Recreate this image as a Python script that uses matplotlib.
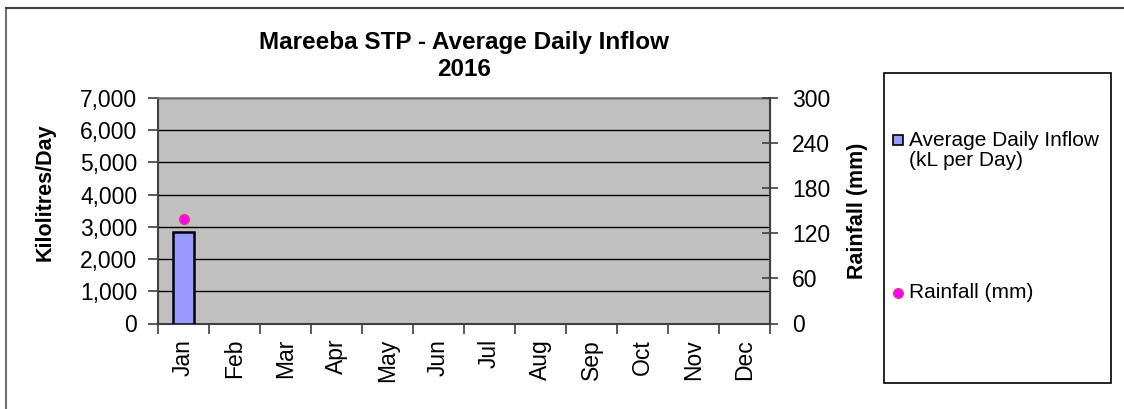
import matplotlib
matplotlib.use("Agg")
import matplotlib.pyplot as plt
from matplotlib.lines import Line2D
from matplotlib.patches import Rectangle
import numpy as np

months = ["Jan", "Feb", "Mar", "Apr", "May", "Jun",
          "Jul", "Aug", "Sep", "Oct", "Nov", "Dec"]
# only January has data so far
inflow_kl = [2850, np.nan, np.nan, np.nan, np.nan, np.nan,
             np.nan, np.nan, np.nan, np.nan, np.nan, np.nan]
rainfall_mm = [139, np.nan, np.nan, np.nan, np.nan, np.nan,
               np.nan, np.nan, np.nan, np.nan, np.nan, np.nan]
inflow_ticks = [0, 1000, 2000, 3000, 4000, 5000, 6000, 7000]
rain_ticks = [0, 60, 120, 180, 240, 300]

plt.rcParams["font.family"] = ["Liberation Sans", "DejaVu Sans"]

BAR_COLOR = "#9999ff"
RAIN_COLOR = "#ff00ff"
RAIN_EDGE = "#e0407a"

W, H = 1124, 409
fig = plt.figure(figsize=(W / 100, H / 100), dpi=100)


def fx(px):
    return px / W


def fy(py):
    return 1 - py / H


ax = fig.add_axes([fx(158), fy(323.5), 612 / W, 225.5 / H])
ax.set_facecolor("#c0c0c0")
x = np.arange(len(months))

ax.bar(x, inflow_kl, width=0.4, color=BAR_COLOR,
       edgecolor="black", linewidth=1.8, zorder=3)
ax.set_xlim(-0.5, 11.5)
ax.set_ylim(0, 7000)
ax.set_yticks(inflow_ticks)
ax.set_yticklabels([f"{v:,}" for v in inflow_ticks], fontsize=16.5)
ax.yaxis.grid(True, color="black", linewidth=1)
ax.set_axisbelow(True)
ax.set_xticks(x)
ax.set_xticklabels(months, rotation=90, fontsize=16.5, va="top")
ax.tick_params(axis="x", length=0, pad=11)
ax.set_xticks(np.arange(-0.5, 12, 1), minor=True)
ax.tick_params(axis="x", which="minor", length=7, width=1.2, color="#404040")
ax.tick_params(axis="y", length=7, width=1.2, color="#404040", pad=8)

ax.spines["top"].set_color("#808080")
ax.spines["top"].set_linewidth(1.2)
for side in ["left", "bottom"]:
    ax.spines[side].set_color("#404040")
    ax.spines[side].set_linewidth(1.5)

ax2 = ax.twinx()
ax2.plot(x, rainfall_mm, "o", color=RAIN_COLOR, markeredgecolor=RAIN_EDGE,
         markersize=7, zorder=4)
ax2.set_ylim(0, 300)
ax2.set_yticks(rain_ticks)
ax2.set_yticklabels([str(v) for v in rain_ticks], fontsize=16.5)
ax2.tick_params(axis="y", direction="inout", length=12, width=1.2,
                color="#404040", pad=10)
ax2.spines["right"].set_color("#404040")
ax2.spines["right"].set_linewidth(1.5)
for side in ["top", "left", "bottom"]:
    ax2.spines[side].set_visible(False)

# axis titles
fig.text(fx(45), fy(192), "Kilolitres/Day", rotation=90, ha="center",
         va="center", fontsize=15.5, fontweight="bold")
fig.text(fx(857), fy(211), "Rainfall (mm)", rotation=90, ha="center",
         va="center", fontsize=15.5, fontweight="bold")

fig.text(fx(464), fy(42), "Mareeba STP - Average Daily Inflow",
         ha="center", va="center", fontsize=17.5, fontweight="bold")
fig.text(fx(464), fy(70), "2016",
         ha="center", va="center", fontsize=17.5, fontweight="bold")

# outer chart border (runs off the right and bottom edges)
fig.add_artist(Line2D([fx(5.5), fx(5.5)], [0, fy(7.5)],
                      transform=fig.transFigure, color="#707070", linewidth=1.5))
fig.add_artist(Line2D([fx(5.5), 1], [fy(7.5), fy(7.5)],
                      transform=fig.transFigure, color="#404040", linewidth=1.5))

# legend box with its two entries
fig.add_artist(Rectangle((fx(883.5), fy(383)), 227 / W, 310 / H,
                         transform=fig.transFigure, facecolor="white",
                         edgecolor="black", linewidth=1.2))
fig.add_artist(Line2D([fx(898)], [fy(140)], transform=fig.transFigure,
                      marker="s", markersize=7.5, markerfacecolor=BAR_COLOR,
                      markeredgecolor="black", markeredgewidth=1.2))
fig.text(fx(909), fy(140), "Average Daily Inflow", ha="left", va="center",
         fontsize=15)
fig.text(fx(909), fy(160), "(kL per Day)", ha="left", va="center",
         fontsize=15)
fig.add_artist(Line2D([fx(898)], [fy(293)], transform=fig.transFigure,
                      marker="o", markersize=7, markerfacecolor=RAIN_COLOR,
                      markeredgecolor=RAIN_EDGE))
fig.text(fx(909), fy(293), "Rainfall (mm)", ha="left", va="center",
         fontsize=15)

fig.savefig("out.png", dpi=100, facecolor="white")
